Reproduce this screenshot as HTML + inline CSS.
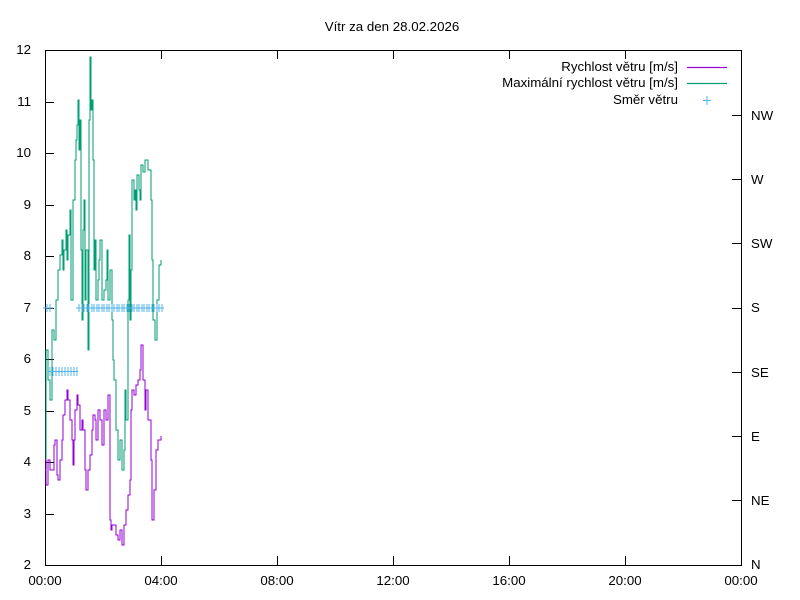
<!DOCTYPE html>
<html><head><meta charset="utf-8"><style>body{margin:0;background:#fff}svg{display:block}text{font-family:"Liberation Sans",sans-serif;font-size:13.3px;fill:#000}</style></head><body>
<svg width="800" height="600" xmlns="http://www.w3.org/2000/svg">
<rect width="800" height="600" fill="#fff"/>
<text x="392" y="31" text-anchor="middle">Vítr za den 28.02.2026</text>
<g stroke="#000" stroke-width="1" fill="none">
<rect x="45.5" y="50.5" width="696" height="515"/>
<path d="M45 514.5h9M45 462.5h9M45 411.5h9M45 359.5h9M45 308.5h9M45 256.5h9M45 205.5h9M45 153.5h9M45 102.5h9
M161.5 565v-9M277.5 565v-9M393.5 565v-9M509.5 565v-9M625.5 565v-9M161.5 50v9M277.5 50v9M393.5 50v9M509.5 50v9M625.5 50v9
M741 500.5h-9M741 436.5h-9M741 372.5h-9M741 308.5h-9M741 243.5h-9M741 179.5h-9M741 115.5h-9"/>
</g>
<g text-anchor="end">
<text x="31" y="569">2</text><text x="31" y="518">3</text><text x="31" y="466">4</text><text x="31" y="415">5</text><text x="31" y="363">6</text><text x="31" y="312">7</text><text x="31" y="260">8</text><text x="31" y="209">9</text><text x="31" y="157">10</text><text x="31" y="106">11</text><text x="31" y="54">12</text>
</g>
<g>
<text x="751" y="569">N</text><text x="751" y="505">NE</text><text x="751" y="441">E</text><text x="751" y="377">SE</text><text x="751" y="312">S</text><text x="751" y="248">SW</text><text x="751" y="184">W</text><text x="751" y="120">NW</text>
</g>
<g text-anchor="middle">
<text x="45" y="585">00:00</text><text x="161" y="585">04:00</text><text x="277" y="585">08:00</text><text x="393" y="585">12:00</text><text x="509" y="585">16:00</text><text x="625" y="585">20:00</text><text x="741" y="585">00:00</text>
</g>
<g text-anchor="end">
<text x="678" y="71">Rychlost větru [m/s]</text>
<text x="678" y="87">Maximální rychlost větru [m/s]</text>
<text x="678" y="104">Směr větru</text>
</g>
<path d="M687 67.5h40" stroke="#9400d3" stroke-width="1.2"/>
<path d="M687 83.5h40" stroke="#009e73" stroke-width="1.2"/>
<path d="M703 100.5h8M707 96v9" stroke="#56b4e9"/>
<g shape-rendering="crispEdges">
<path fill="none" stroke="#009e73" d="M45 470H46V350H48V380H50V400H52V330H54V340H56V300H58V270H60V255H62V240H63V270H64V250H66V230H67V260H68V235H70V210H71V300H73V200H75V160H76V140H77V125H78V100H79V150H80V120H81V250H82V320H83V230H84V200H85V300H86V250H88V350H89V120H90V57H91V110H92V100H93V160H94V270H95V240H96V300H98V280H99V260H100V240H102V300H104V290H106V280H107V250H108V300H110V270H112V320H113V360H114V380H116V430H118V460H120V440H122V470H124V450H125V390H126V420H128V300H129V235H130V320H131V270H132V180H134V200H135V190H136V210H137V175H139V190H140V200H141V165H143V172H145V160H147V160H148V170H151V200H152V260H153V320H155V340H157V300H159V265H161V260"/>
<path fill="none" stroke="#9400d3" d="M45 460H46V485H48V460H50V470H52V470H54V445H55V440H57V475H58V480H60V460H62V440H63V415H65V400H67V390H68V400H70V420H72V440H73V465H74V440H75V410H77V395H78V405H80V430H82V420H83V430H85V470H86V490H88V470H90V455H92V430H93V415H95V420H96V440H98V410H100V420H102V445H104V410H106V420H108V395H110V520H111V530H112V525H114V525H116V535H118V540H120V530H122V545H124V525H126V510H128V495H130V480H131V410H132V390H134V395H136V385H138V380H140V370H141V345H143V380H145V410H146V390H148V420H151V460H152V520H154V490H156V450H158V440H161V436"/>
</g>
<path stroke="#56b4e9" fill="none" d="M43 308h8M47 304v8M47 308h6M50 304v8
M48 371.5h30M50 367v9M53 367v9M56 367v9M59 367v9M62 367v9M65 367v9M68 367v9M71 367v9M74 367v9M77 367v9
M76 308h88M79 304v8M82 304v8M84 304v8M87 304v8M89 304v8M92 304v8M94 304v8M97 304v8M99 304v8M102 304v8M104 304v8M107 304v8M109 304v8M112 304v8M114 304v8M117 304v8M119 304v8M122 304v8M124 304v8M127 304v8M129 304v8M132 304v8M134 304v8M137 304v8M139 304v8M142 304v8M144 304v8M147 304v8M149 304v8M152 304v8M154 304v8M157 304v8M159 304v8M162 304v8"/>
</svg>
</body></html>
